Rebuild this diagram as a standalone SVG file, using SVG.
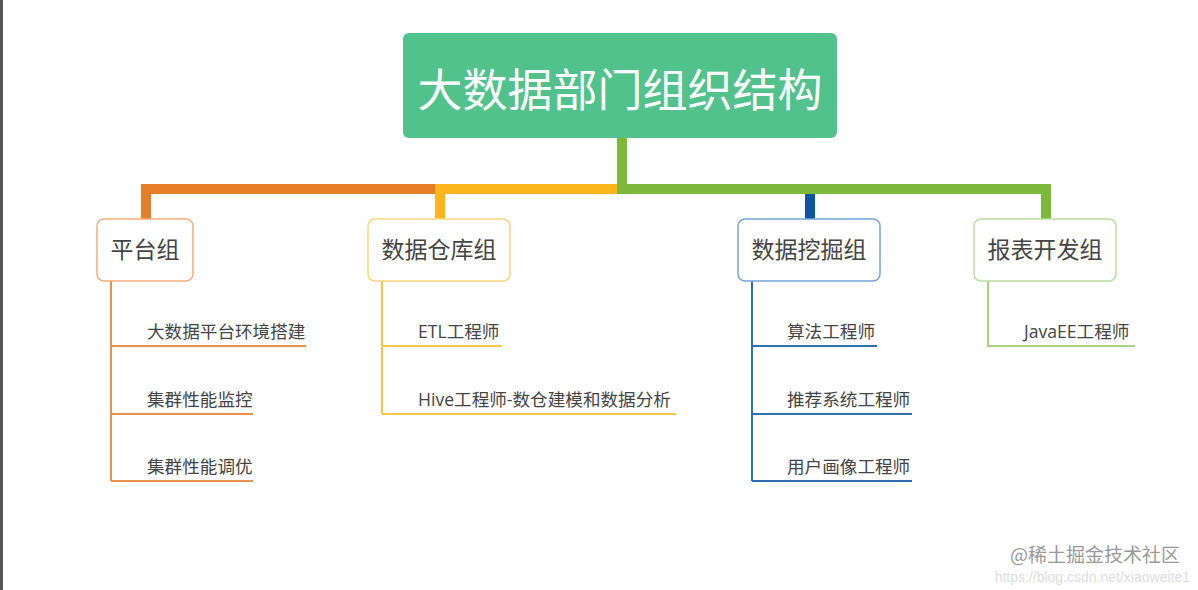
<svg xmlns="http://www.w3.org/2000/svg" width="1198" height="590" viewBox="0 0 1198 590">
<style>
.main{fill:none;stroke-width:10;stroke-linejoin:miter;stroke-linecap:butt}
.sub{fill:none;stroke-width:2}
.box{fill:#fff;stroke-width:1.5}
.bt{font-family:"Noto Sans CJK SC","Open Sans",sans-serif;font-size:23px;fill:#444;text-anchor:middle}
.it{font-family:"Open Sans","Noto Sans CJK SC",sans-serif;font-size:17.6px;fill:#444}
</style>
<rect x="0" y="0" width="1198" height="590" fill="#fff"/>
<rect x="0" y="0" width="3" height="590" fill="#555"/>
<g id="connectors">
<path class="main" stroke="#E67E27" d="M146 219V189H435"/>
<path class="main" stroke="#FDB51C" d="M440 219V189H617"/>
<path class="main" stroke="#7CB93C" d="M622 138V189H1046V219"/>
<path class="main" stroke="#0A56A6" d="M810 194V219"/>
<path class="sub" stroke="#E8914D" d="M111 281V481M111 346H306M111 414H253M111 481H253"/>
<path class="sub" stroke="#F6C744" d="M382 281V414M382 346H502M382 414H676"/>
<path class="sub" stroke="#2F6DB0" d="M752 281V481M752 346H877M752 414H912M752 481H912"/>
<path class="sub" stroke="#A9D47D" d="M988 281V346H1135"/>
</g>
<g id="root">
<rect x="403" y="33" width="434" height="105" rx="6" fill="#52C28C"/>
<text x="620" y="107" font-family="Noto Sans CJK SC,sans-serif" font-size="45" fill="#fff" text-anchor="middle">大数据部门组织结构</text>
</g>
<g id="g1">
<rect class="box" x="97" y="219" width="96" height="62" rx="7" stroke="#F2AE7C"/>
<text class="bt" x="145" y="258">平台组</text>
</g>
<g id="g2">
<rect class="box" x="368" y="219" width="142" height="62" rx="7" stroke="#F8D67F"/>
<text class="bt" x="439" y="258">数据仓库组</text>
</g>
<g id="g3">
<rect class="box" x="738" y="219" width="142" height="62" rx="7" stroke="#77A4D4"/>
<text class="bt" x="809" y="258">数据挖掘组</text>
</g>
<g id="g4">
<rect class="box" x="974" y="219" width="142" height="62" rx="7" stroke="#B8DDA0"/>
<text class="bt" x="1045" y="258">报表开发组</text>
</g>
<g id="items">
<text class="it" x="147" y="338">大数据平台环境搭建</text>
<text class="it" x="147" y="406">集群性能监控</text>
<text class="it" x="147" y="473">集群性能调优</text>
<text class="it" x="418" y="338">ETL工程师</text>
<text class="it" x="418" y="406">Hive工程师-数仓建模和数据分析</text>
<text class="it" x="787" y="338">算法工程师</text>
<text class="it" x="787" y="406">推荐系统工程师</text>
<text class="it" x="787" y="473">用户画像工程师</text>
<text class="it" x="1024" y="338">JavaEE工程师</text>
</g>
<text x="1180" y="562" font-family="Noto Sans CJK SC,sans-serif" font-size="19" fill="#999" text-anchor="end">@稀土掘金技术社区</text>
<text x="1190" y="582" font-family="Liberation Sans,sans-serif" font-size="14" fill="#ddd" text-anchor="end">https://blog.csdn.net/xiaoweite1</text>
</svg>
